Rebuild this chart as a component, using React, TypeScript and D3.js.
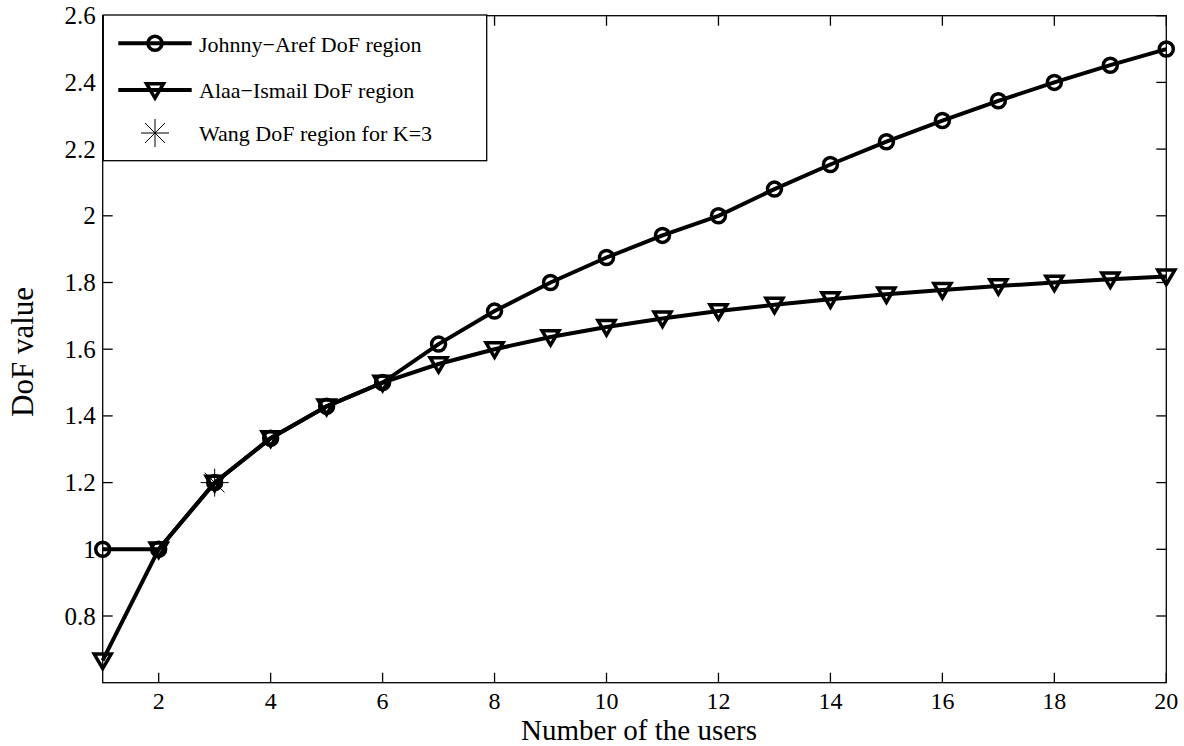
import React, { useEffect, useRef } from "react";
import * as d3 from "d3";

const users = [1, 2, 3, 4, 5, 6, 7, 8, 9, 10, 11, 12, 13, 14, 15, 16, 17, 18, 19, 20];
const johnnyAref = [1, 1, 1.2, 1.333, 1.4286, 1.5, 1.6154, 1.7143, 1.8, 1.875, 1.9412, 2, 2.08, 2.1538, 2.2222, 2.2857, 2.3448, 2.4, 2.4516, 2.5];
const alaaIsmail = [0.6667, 1, 1.2, 1.3333, 1.4286, 1.5, 1.5556, 1.6, 1.6364, 1.6667, 1.6923, 1.7143, 1.7333, 1.75, 1.7647, 1.7778, 1.7895, 1.8, 1.8095, 1.8182];
const wangK = [3];
const wangVal = [1.2];
const xTicks = [2, 4, 6, 8, 10, 12, 14, 16, 18, 20];
const yTicks = [0.8, 1, 1.2, 1.4, 1.6, 1.8, 2, 2.2, 2.4, 2.6];
const legendLabels = ["Johnny\u2212Aref DoF region", "Alaa\u2212Ismail DoF region", "Wang DoF region for K=3"];

const W = 1184, H = 746;
const FONT = "'Liberation Serif', 'DejaVu Serif', serif";

export default function App() {
  const ref = useRef<SVGSVGElement>(null);
  useEffect(() => {
    const svg = d3.select(ref.current);
    svg.selectAll("*").remove();
    const L = 102.7, R = 1166.3, T = 15.7, B = 682.7;
    const x = d3.scaleLinear().domain([1, 20]).range([L, R]);
    const y = d3.scaleLinear().domain([0.6, 2.6]).range([B, T]);
    const tl = 10;

    svg.append("rect").attr("x", 0).attr("y", 0).attr("width", W).attr("height", H).attr("fill", "white");

    const ax = svg.append("g").attr("stroke", "#000").attr("stroke-width", 1.3).attr("fill", "none");
    ax.append("rect").attr("x", L).attr("y", T).attr("width", R - L).attr("height", B - T);
    xTicks.forEach((t) => {
      ax.append("line").attr("x1", x(t)).attr("x2", x(t)).attr("y1", B).attr("y2", B - tl);
      ax.append("line").attr("x1", x(t)).attr("x2", x(t)).attr("y1", T).attr("y2", T + tl);
    });
    yTicks.forEach((t) => {
      ax.append("line").attr("x1", L).attr("x2", L + tl).attr("y1", y(t)).attr("y2", y(t));
      ax.append("line").attr("x1", R).attr("x2", R - tl).attr("y1", y(t)).attr("y2", y(t));
    });

    const txt = svg.append("g").attr("font-family", FONT).attr("fill", "#000");
    xTicks.forEach((t) => {
      txt.append("text").attr("x", x(t)).attr("y", B + 26.5).attr("text-anchor", "middle").attr("font-size", 24).text(String(t));
    });
    yTicks.forEach((t) => {
      txt.append("text").attr("x", L - 7).attr("y", y(t) + 8.5).attr("text-anchor", "end").attr("font-size", 25).text(d3.format("")(t));
    });
    txt.append("text").attr("x", 639).attr("y", 740).attr("text-anchor", "middle").attr("font-size", 29).text("Number of the users");
    txt.append("text").attr("transform", `translate(33,352) rotate(-90)`).attr("text-anchor", "middle").attr("font-size", 31).text("DoF value");

    const line = d3.line<number>().x((_, i) => x(users[i])).y((d) => y(d));
    const g = svg.append("g");

    const tri = (cx: number, cy: number, s: number) =>
      `M${cx - s},${cy - s * 0.75}L${cx + s},${cy - s * 0.75}L${cx},${cy + s * 0.95}Z`;
    const star = (cx: number, cy: number, r: number) => {
      let p = "";
      for (let k = 0; k < 4; k++) {
        const a = (k * Math.PI) / 4;
        p += `M${cx - r * Math.cos(a)},${cy - r * Math.sin(a)}L${cx + r * Math.cos(a)},${cy + r * Math.sin(a)}`;
      }
      return p;
    };

    g.append("path").attr("d", line(johnnyAref)!).attr("fill", "none").attr("stroke", "#000").attr("stroke-width", 4);
    johnnyAref.forEach((v, i) => {
      g.append("circle").attr("cx", x(users[i])).attr("cy", y(v)).attr("r", 7).attr("fill", "none").attr("stroke", "#000").attr("stroke-width", 3.5);
    });
    g.append("path").attr("d", line(alaaIsmail)!).attr("fill", "none").attr("stroke", "#000").attr("stroke-width", 4);
    alaaIsmail.forEach((v, i) => {
      g.append("path").attr("d", tri(x(users[i]), y(v), 8.5)).attr("fill", "none").attr("stroke", "#000").attr("stroke-width", 3.5).attr("stroke-linejoin", "miter");
    });
    wangK.forEach((k, i) => {
      g.append("path").attr("d", star(x(k), y(wangVal[i]), 14)).attr("stroke", "#000").attr("stroke-width", 1);
    });

    // legend
    const lg = svg.append("g");
    lg.append("rect").attr("x", 103.3).attr("y", 15).attr("width", 383.4).attr("height", 145.7).attr("fill", "white").attr("stroke", "#000").attr("stroke-width", 1.3);
    const rows = [43.3, 90, 133];
    const lx1 = 118.3, lx2 = 191.7, mx = 155;
    lg.append("line").attr("x1", lx1).attr("x2", lx2).attr("y1", rows[0]).attr("y2", rows[0]).attr("stroke", "#000").attr("stroke-width", 4);
    lg.append("circle").attr("cx", mx).attr("cy", rows[0]).attr("r", 7).attr("fill", "none").attr("stroke", "#000").attr("stroke-width", 3.5);
    lg.append("line").attr("x1", lx1).attr("x2", lx2).attr("y1", rows[1]).attr("y2", rows[1]).attr("stroke", "#000").attr("stroke-width", 4);
    lg.append("path").attr("d", tri(mx, rows[1], 8.5)).attr("fill", "none").attr("stroke", "#000").attr("stroke-width", 3.5);
    lg.append("path").attr("d", star(mx, rows[2], 14)).attr("stroke", "#000").attr("stroke-width", 1);
    legendLabels.forEach((s, i) => {
      lg.append("text").attr("x", 199).attr("y", rows[i] + 8.4).attr("font-family", FONT).attr("font-size", 22).attr("fill", "#000").text(s);
    });
  }, []);
  return <svg ref={ref} width={W} height={H} style={{ display: "block", position: "absolute", left: 0, top: 0 }} />;
}
